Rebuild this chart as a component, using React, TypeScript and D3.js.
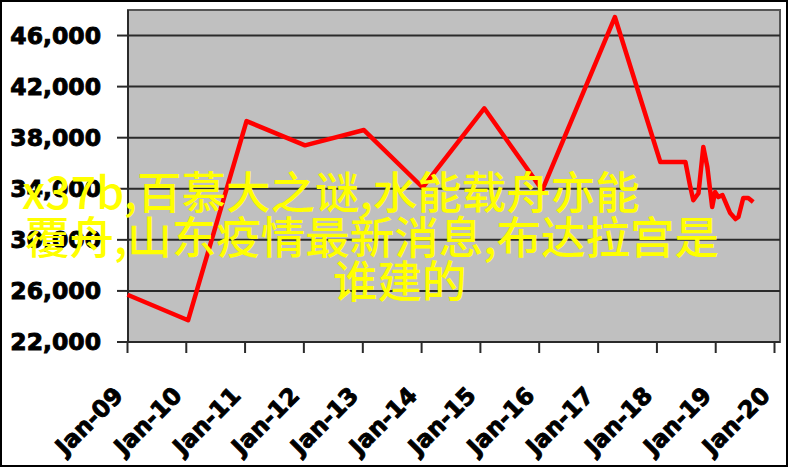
import React from "react";
import * as d3 from "d3";

const dates = [
  "2009-01-01", "2010-01-12", "2011-01-10", "2012-01-08", "2013-01-08",
  "2014-01-08", "2015-01-25", "2016-01-20", "2017-04-15", "2018-01-22",
  "2018-06-27", "2018-07-27", "2018-08-15", "2018-09-16", "2018-10-16",
  "2018-11-10", "2018-12-10", "2018-12-28", "2019-01-17", "2019-02-12",
  "2019-04-01", "2019-05-04", "2019-05-22", "2019-06-21", "2019-07-22",
  "2019-08-22",
];
const values = [
  25700, 23700, 39300, 37400, 38600,
  34100, 40300, 33900, 47450, 36100,
  36100, 34150, 33100, 33650, 37270,
  35700, 32570, 33750, 33350, 33500,
  32100, 31630, 31790, 33280, 33280,
  32960,
];
const yTicks = [22000, 26000, 30000, 34000, 38000, 42000, 46000];
const xTickYears = [2009, 2010, 2011, 2012, 2013, 2014, 2015, 2016, 2017, 2018, 2019, 2020];
const overlayLines = [
  "x37b,百慕大之谜,水能载舟亦能",
  "覆舟,山东疫情最新消息,布达拉宫是",
  "谁建的",
];

const W = 788;
const H = 467;
const plot = { left: 128, right: 780, top: 10, bottom: 342 };

export default function App() {
  const parse = d3.timeParse("%Y-%m-%d");
  const data = dates.map((d, i) => ({ date: parse(d) as Date, value: values[i] }));
  const x = d3
    .scaleTime()
    .domain([new Date(2009, 0, 1), new Date(2020, 0, 1)])
    .range([127.5, 774.5]);
  const y = d3.scaleLinear().domain([22000, 48000]).range([plot.bottom, plot.top]);
  const line = d3
    .line<{ date: Date; value: number }>()
    .x((d) => x(d.date))
    .y((d) => y(d.value));
  const fmt = d3.format(",");
  const monthFmt = d3.timeFormat("%b-%y");
  const overlayX = [22, 25, 333];
  const overlayY = [209, 254, 298];

  return (
    <svg
      width={W}
      height={H}
      style={{ position: "absolute", left: 0, top: 0, display: "block" }}
    >
      <rect x={0} y={0} width={W} height={H} fill="#ffffff" />
      <rect x={1} y={1} width={W - 2} height={H - 2} fill="none" stroke="#000" strokeWidth={2} />
      <rect
        x={plot.left}
        y={plot.top}
        width={plot.right - plot.left}
        height={plot.bottom - plot.top}
        fill="#c0c0c0"
        stroke="#555"
        strokeWidth={2}
      />
      {yTicks.map((t) => (
        <g key={t}>
          {t > 22000 && (
            <line x1={plot.left} x2={plot.right} y1={y(t)} y2={y(t)} stroke="#2a2a2a" strokeWidth={2} />
          )}
          <line x1={117} x2={plot.left} y1={y(t)} y2={y(t)} stroke="#2a2a2a" strokeWidth={2} />
          <text
            x={101}
            y={y(t)}
            dy="0.36em"
            textAnchor="end"
            fontFamily="DejaVu Sans"
            fontWeight="bold"
            fontSize={23.5}
            fill="#000"
            stroke="#000"
            strokeWidth={0.9}
          >
            {fmt(t)}
          </text>
        </g>
      ))}
      <line x1={plot.left} x2={plot.left} y1={plot.top} y2={plot.bottom} stroke="#2a2a2a" strokeWidth={2} />
      <line x1={plot.left - 1} x2={plot.right} y1={plot.bottom} y2={plot.bottom} stroke="#2a2a2a" strokeWidth={2} />
      {xTickYears.map((yr) => {
        const d = new Date(yr, 0, 1);
        const tx = x(d);
        return (
          <g key={yr}>
            <line x1={tx} x2={tx} y1={plot.bottom} y2={plot.bottom + 11} stroke="#2a2a2a" strokeWidth={2} />
            <text
              transform={`translate(${tx - 3},${397}) rotate(-45)`}
              textAnchor="end"
              fontFamily="DejaVu Sans"
              fontWeight="bold"
              fontSize={23.5}
              fill="#000"
              stroke="#000"
              strokeWidth={0.9}
            >
              {monthFmt(d)}
            </text>
          </g>
        );
      })}
      <path
        d={line(data) || ""}
        fill="none"
        stroke="#ff0000"
        strokeWidth={4.5}
        strokeLinejoin="round"
      />
      {overlayLines.map((s, i) => (
        <text
          key={i}
          x={overlayX[i]}
          y={overlayY[i]}
          fontFamily="Noto Sans CJK SC"
          fontWeight={500}
          fontSize={44.5}
          fill="#ffff00"
        >
          {s}
        </text>
      ))}
    </svg>
  );
}
